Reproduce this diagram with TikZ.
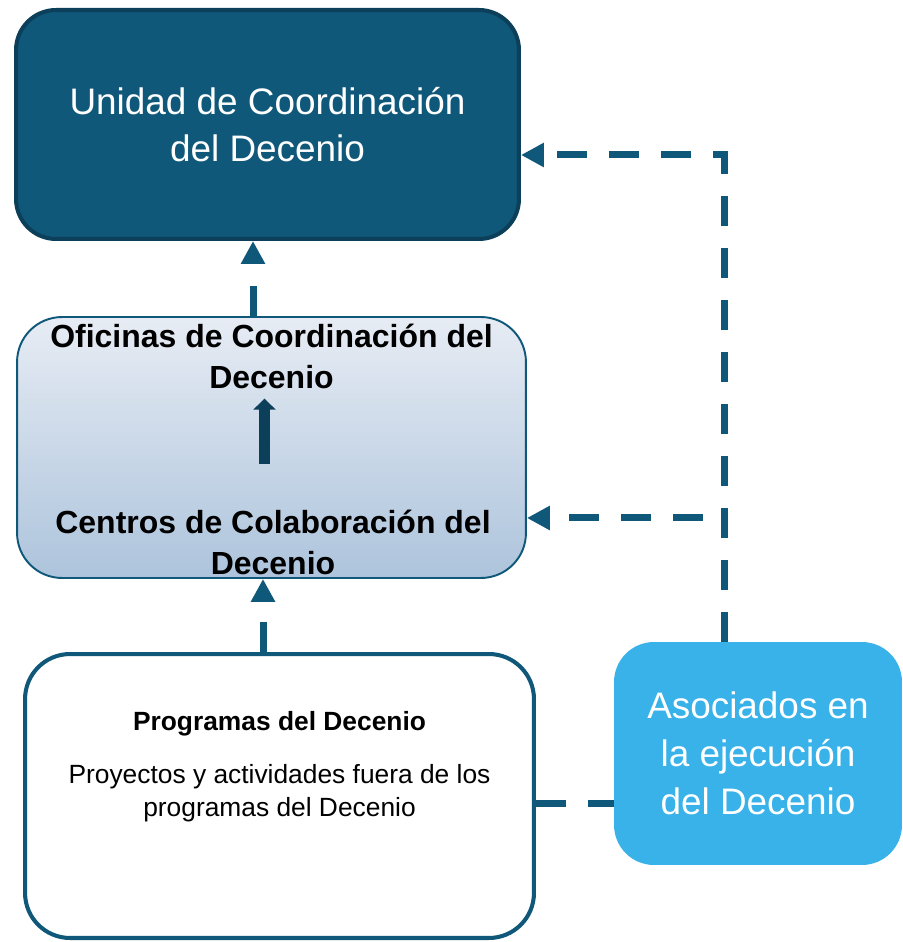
\documentclass[tikz,border=0pt]{standalone}
\usepackage{fontspec}
\setmainfont{Liberation Sans}
\setsansfont{Liberation Sans}
\usetikzlibrary{arrows.meta, positioning, calc}
\usepackage{xcolor}
\definecolor{decDark}{HTML}{10587A}
\definecolor{decEdge}{HTML}{0C3F5A}
\definecolor{decSky}{HTML}{38B2E8}
\definecolor{decTop}{HTML}{E7ECF4}
\definecolor{decBot}{HTML}{ADC4DC}
\tikzset{
    font=\sffamily,
    % Shapes
    unitBox/.style={rectangle, rounded corners=0.8cm, line width=2.3pt, draw=decEdge, fill=decDark,
                    text=white, inner sep=0pt, align=center, minimum width=10.06cm, minimum height=4.58cm,
                    font=\sffamily\fontsize{21}{26.7}\selectfont},
    centreBox/.style={rectangle, rounded corners=0.9cm, line width=1.1pt, draw=decDark,
                      top color=decTop, bottom color=decBot, minimum width=10.18cm, minimum height=5.22cm},
    progBox/.style={rectangle, rounded corners=0.9cm, line width=2.3pt, draw=decDark, fill=white,
                    minimum width=10.18cm, minimum height=5.68cm},
    partnerBox/.style={rectangle, rounded corners=0.8cm, fill=decSky, text=white, align=center,
                       inner sep=0pt, minimum width=5.76cm, minimum height=4.46cm,
                       font=\sffamily\fontsize{21}{27.3}\selectfont},
    % Labels
    boldLbl/.style={align=center, inner sep=0pt, font=\sffamily\bfseries\fontsize{18.2}{23.3}\selectfont},
    progLbl/.style={align=center, inner sep=0pt, font=\sffamily\bfseries\fontsize{15}{18.8}\selectfont},
    plainLbl/.style={align=center, inner sep=0pt, font=\sffamily\fontsize{15}{18.8}\selectfont},
    % Flow
    link/.style={line width=0.14cm, decDark, dash pattern=on 0.6cm off 0.44cm},
    flow/.style={link, -{Triangle[length=0.46cm, width=0.46cm]}},
    rise/.style={-{Triangle[length=0.22cm, width=0.44cm]}, line width=0.21cm, decEdge}
}

\begin{document}
\begin{tikzpicture}[x=0.02cm, y=-0.02cm]
\useasboundingbox (0,0) rectangle (902,942);

\node[unitBox] (unidad) at (267.5,124.5) {Unidad de Coordinación\\del Decenio};

\node[centreBox] (cbox) at (271.5,447.5) {};
\node[boldLbl] (ofic) at (271.5,356) {Oficinas de Coordinación del\\Decenio};
\node[boldLbl] (centro) at (273,542) {Centros de Colaboración del\\Decenio};

\node[progBox] (progbox) at (279.5,796) {};
\node[progLbl] (prog) at (279.5,724) {Programas del Decenio};
\node[plainLbl, below=0.55cm of prog] (proy) {Proyectos y actividades fuera de los\\programas del Decenio};

\node[partnerBox] (asoc) at (758,753.5) {Asociados en\\la ejecución\\del Decenio};

% connectors
\draw[rise, shorten <=0.9cm, shorten >=0.2cm] ([xshift=-0.17cm]centro.north) -- ([xshift=-0.17cm]centro.north |- ofic.south);
\draw[flow] ([xshift=-0.37cm]cbox.north) -- ([xshift=-0.37cm]cbox.north |- unidad.south);
\draw[flow] ([xshift=-0.33cm]progbox.north) -- ([xshift=-0.33cm]progbox.north |- cbox.south);
\draw[flow] ([xshift=-0.68cm]asoc.north) |- ([yshift=-0.61cm]unidad.east);
\coordinate (branch) at ([xshift=-0.68cm, yshift=-1.41cm]asoc.north |- cbox.east);
\draw[flow] ([xshift=-0.42cm]branch) -- (branch -| cbox.east);
\draw[link] ([yshift=-0.14cm]progbox.east) -- ([yshift=-0.14cm]progbox.east -| asoc.west);

\end{tikzpicture}
\end{document}
